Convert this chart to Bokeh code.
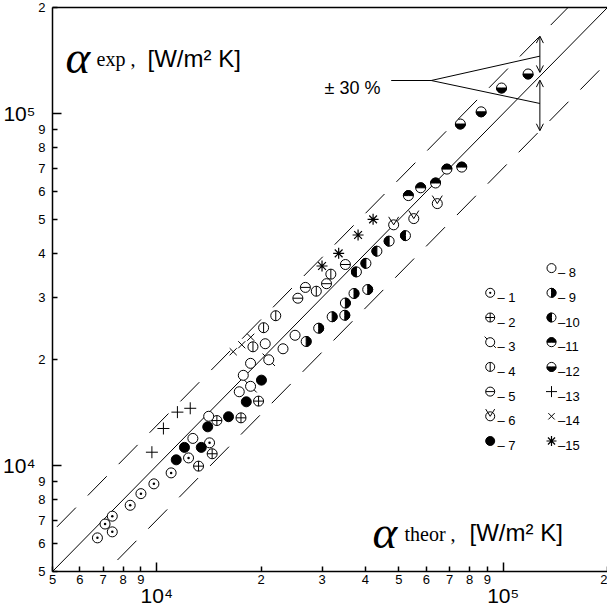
import numpy as np
from bokeh.plotting import figure
from bokeh.models import FixedTicker, Label, Arrow, OpenHead, Range1d, LogAxis
from bokeh.embed import file_html
from bokeh.resources import INLINE

# ---------------- data ----------------
XMIN, XMAX = 5000, 200000
YMIN, YMAX = 5000, 200000

TICKS = [5000, 6000, 7000, 8000, 9000, 20000, 30000, 40000, 50000,
         60000, 70000, 80000, 90000, 200000]
TICK_LABELS = ["5", "6", "7", "8", "9", "2", "3", "4", "5", "6", "7", "8", "9", "2"]
DECADES = [10000, 100000]
DECADE_LABELS = ["10⁴", "10⁵"]

S1_X = [6740, 7090, 7440, 7440, 8380, 9000, 9810, 11000, 12350, 14200]
S1_Y = [6230, 6820, 7180, 6480, 7710, 8320, 8870, 9530, 10510, 11600]
S2_X = [13200, 14450, 14910, 17500, 19670]
S2_Y = [9960, 10800, 13420, 13660, 15240]
S3_X = [18650, 21050]
S3_Y = [16790, 19970]
S4_X = [18950, 20340, 22050, 28870, 31800]
S4_Y = [21740, 24630, 26640, 31270, 34960]
S5_X = [25540, 26850, 30900, 35030]
S5_Y = [29870, 32060, 32850, 37240]
S6_X = [48280, 55190, 64520]
S6_Y = [48270, 50280, 55460]
S7_X = [11380, 12020, 13440, 14030, 16110, 18130, 20050]
S7_Y = [10380, 11260, 11260, 12880, 13760, 15170, 17480]
S8_X = [12710, 14120, 17300, 17770, 18650, 20560, 23140, 25070]
S8_Y = [11940, 13800, 16200, 18040, 19510, 22180, 21460, 23440]
S9_X = [26990, 29330, 32080, 34890, 35030, 37090, 40630]
S9_Y = [22510, 24550, 26460, 26720, 28940, 30810, 31620]
S10_X = [37690, 40150, 43190, 46850, 52220]
S10_Y = [35480, 37520, 40630, 43380, 44980]
S11_X = [53240, 57780, 63800, 68780, 75910]
S11_Y = [58440, 61500, 63460, 69500, 70420]
S12_X = [75210, 86360, 98900, 117980]
S12_Y = [93330, 101090, 118120, 129480]
S13_X = [9680, 10450, 11470, 12490]
S13_Y = [10910, 12740, 14180, 14540]
S14_X = [16620, 17590, 18670]
S14_Y = [21050, 22030, 23140]
S15_X = [29990, 33500, 38110, 42110]
S15_Y = [36880, 40060, 45170, 50030]

SERIES = [(1, S1_X, S1_Y), (2, S2_X, S2_Y), (3, S3_X, S3_Y), (4, S4_X, S4_Y),
          (5, S5_X, S5_Y), (6, S6_X, S6_Y), (7, S7_X, S7_Y), (8, S8_X, S8_Y),
          (9, S9_X, S9_Y), (10, S10_X, S10_Y), (11, S11_X, S11_Y),
          (12, S12_X, S12_Y), (13, S13_X, S13_Y), (14, S14_X, S14_Y),
          (15, S15_X, S15_Y)]

TOL = 0.30
ANNOT_X = 127600
ANNOT_TEXT = "± 30 %"
Y_TITLE_SUB = "exp ,"
X_TITLE_SUB = "theor ,"
UNIT_TEXT = "[W/m² K]"

# ---------------- layout helpers ----------------
FRAME_L, FRAME_T = 58, 15      # frame position in page pixels
FRAME_W, FRAME_H = 555, 564
RX = XMAX / XMIN
RY = YMAX / YMIN


def img(ix, iy):
    """page pixel -> data coordinates"""
    fx = (ix - FRAME_L) / FRAME_W
    fy = (iy - FRAME_T) / FRAME_H
    return XMIN * RX ** fx, YMIN * RY ** (1 - fy)


def shift(x, y, dx, dy):
    """shift data coords by screen pixels (dy positive = down)"""
    return np.asarray(x, float) * RX ** (dx / FRAME_W), np.asarray(y, float) * RY ** (-dy / FRAME_H)


p = figure(x_axis_type="log", y_axis_type="log",
           x_range=Range1d(XMIN, XMAX), y_range=Range1d(YMIN, YMAX),
           frame_width=FRAME_W, frame_height=FRAME_H,
           min_border_left=50, min_border_right=0, min_border_top=7, min_border_bottom=32,
           output_backend="svg", toolbar_location=None,
           background_fill_color="white", border_fill_color="white")
p.grid.visible = False
p.outline_line_color = None

for ax in (p.xaxis[0], p.yaxis[0]):
    ax.ticker = FixedTicker(ticks=TICKS, minor_ticks=DECADES)
    ax.major_label_overrides = {t: l for t, l in zip(TICKS, TICK_LABELS)}
    ax.major_tick_in = 5
    ax.major_tick_out = 0
    ax.minor_tick_in = 9
    ax.minor_tick_out = 0
    ax.major_tick_line_width = 1.5
    ax.minor_tick_line_width = 1.5
    ax.major_tick_line_color = "black"
    ax.minor_tick_line_color = "black"
    ax.axis_line_width = 1.5
    ax.axis_line_color = "black"
    ax.major_label_text_font = "Liberation Sans"
    ax.major_label_text_font_size = "13px"
    ax.major_label_text_color = "black"
p.xaxis[0].major_label_standoff = 3
p.yaxis[0].major_label_standoff = 7

# decade labels (10^4, 10^5) as a second axis on each side
for side, standoff in (("below", -3), ("left", 0)):
    dax = LogAxis(ticker=FixedTicker(ticks=DECADES, minor_ticks=[]),
                  major_label_overrides={d: l for d, l in zip(DECADES, DECADE_LABELS)},
                  axis_line_color=None, major_tick_line_color=None,
                  minor_tick_line_color=None, major_tick_in=0, major_tick_out=0,
                  major_label_standoff=standoff,
                  major_label_text_font="Liberation Sans",
                  major_label_text_font_size="21px", major_label_text_color="black")
    p.add_layout(dax, side)

# top frame line (no right border visible in the reference)
top_ax = LogAxis(ticker=FixedTicker(ticks=[], minor_ticks=[]), axis_line_width=1.5,
                 axis_line_color="black", major_tick_line_color=None,
                 minor_tick_line_color=None, major_label_text_font_size="0px",
                 major_tick_in=0, major_tick_out=0)
p.add_layout(top_ax, "above")

# reference lines
p.line([XMIN, XMAX], [YMIN, YMAX], line_color="black", line_width=1)
up_x = np.array([5150, YMAX / (1 + TOL)])
p.line(up_x, up_x * (1 + TOL), line_color="black", line_width=1, line_dash="27 17")
lo_x = np.array([7700, XMAX])
p.line(lo_x, lo_x * (1 - TOL), line_color="black", line_width=1, line_dash="27 17")


# ---------------- markers ----------------
HALF = {9: (-np.pi / 2, np.pi / 2), 10: (np.pi / 2, 3 * np.pi / 2),
        11: (0, np.pi), 12: (np.pi, 2 * np.pi)}


def draw(kind, x, y, s):
    x = np.asarray(x, float)
    y = np.asarray(y, float)
    lc = "black"
    if kind == 1:
        p.scatter(x, y, marker="circle_dot", size=s, fill_color="white", line_color=lc, line_width=1)
    elif kind == 2:
        p.scatter(x, y, marker="circle_cross", size=s, fill_color="white", line_color=lc, line_width=1)
    elif kind == 3:
        p.scatter(x, y, marker="dash", size=s * 1.75, angle=-np.pi / 4, line_color=lc, line_width=1)
        p.scatter(x, y, marker="circle", size=s, fill_color="white", line_color=lc, line_width=1)
    elif kind == 4:
        p.scatter(x, y, marker="circle", size=s, fill_color="white", line_color=lc, line_width=1)
        p.scatter(x, y, marker="dash", size=s, angle=np.pi / 2, line_color=lc, line_width=1)
    elif kind == 5:
        p.scatter(x, y, marker="circle", size=s, fill_color="white", line_color=lc, line_width=1)
        p.scatter(x, y, marker="dash", size=s, angle=0, line_color=lc, line_width=1)
    elif kind == 6:
        p.scatter(x, y, marker="circle", size=s, fill_color="white", line_color=lc, line_width=1)
        lx_, ly_ = shift(x, y, -0.5 * s, -0.8 * s)
        rx_, ry_ = shift(x, y, 0.5 * s, -0.8 * s)
        xs = [[a, b, c] for a, b, c in zip(lx_, x, rx_)]
        ys = [[a, b, c] for a, b, c in zip(ly_, y, ry_)]
        p.multi_line(xs, ys, line_color=lc, line_width=1)
    elif kind == 7:
        p.scatter(x, y, marker="circle", size=s, fill_color="black", line_color=lc, line_width=1)
    elif kind == 8:
        p.scatter(x, y, marker="circle", size=s, fill_color="white", line_color=lc, line_width=1)
    elif kind in HALF:
        a0, a1 = HALF[kind]
        p.scatter(x, y, marker="circle", size=s, fill_color="white", line_color=lc, line_width=1)
        p.wedge(x, y, radius=s / 2, radius_units="screen", start_angle=a0, end_angle=a1,
                fill_color="black", line_color=lc, line_width=1)
    elif kind == 13:
        p.scatter(x, y, marker="cross", size=s + 2, line_color=lc, line_width=1)
    elif kind == 14:
        p.scatter(x, y, marker="x", size=s, line_color=lc, line_width=1)
    elif kind == 15:
        p.scatter(x, y, marker="asterisk", size=s + 1, line_color=lc, line_width=1.2)


for kind, xs, ys in SERIES:
    draw(kind, xs, ys, 10)

# ---------------- legend ----------------
LEG_MARK_X = [495.7, 557.0]
LEG_TEXT_X = [503.0, 563.5]
LEG_ROW0, LEG_DY = 275.6, 24.7
for kind, _, _ in SERIES:
    if kind <= 7:
        col, row = 0, kind
    else:
        col, row = 1, kind - 8
    iy = LEG_ROW0 + row * LEG_DY
    mx, my = img(LEG_MARK_X[col], iy)
    draw(kind, [mx], [my], 9)
    tx, ty = img(LEG_TEXT_X[col], iy + 4.5)
    txt = ("– %d" % kind) if kind < 10 else ("–%d" % kind)
    p.add_layout(Label(x=tx, y=ty, text=txt, text_align="left", text_baseline="alphabetic",
                       text_font="Liberation Sans", text_font_size="13px", text_color="black"))

# ---------------- ±30 % annotation ----------------
tx, ty = img(330, 95)
p.add_layout(Label(x=tx, y=ty, text=ANNOT_TEXT, text_align="left", text_baseline="alphabetic",
                   text_font="Liberation Sans", text_font_size="18px", text_color="black"))
hx, hy = img(396.7, 88)
vx, vy = img(436.7, 88)
p.line([hx, vx], [hy, vy], line_color="black", line_width=1)
p.line([vx, ANNOT_X], [vy, ANNOT_X * np.sqrt(1 + TOL)], line_color="black", line_width=1)
p.line([vx, ANNOT_X], [vy, ANNOT_X * np.sqrt(1 - TOL)], line_color="black", line_width=1)
p.add_layout(Arrow(start=OpenHead(size=7, line_width=1), end=OpenHead(size=7, line_width=1),
                   x_start=ANNOT_X, y_start=ANNOT_X * (1 + TOL),
                   x_end=ANNOT_X, y_end=ANNOT_X * 1.025, line_width=1))
p.add_layout(Arrow(start=OpenHead(size=7, line_width=1), end=OpenHead(size=7, line_width=1),
                   x_start=ANNOT_X, y_start=ANNOT_X * 0.975,
                   x_end=ANNOT_X, y_end=ANNOT_X * (1 - TOL), line_width=1))


# ---------------- axis titles ----------------
def title(ax_x, ay, sx, sy, ux, uy, sub):
    a = img(ax_x, ay)
    p.add_layout(Label(x=a[0], y=a[1], text="α", text_font="Liberation Serif",
                       text_font_style="italic", text_font_size="47px", text_color="black",
                       text_baseline="alphabetic"))
    b = img(sx, sy)
    p.add_layout(Label(x=b[0], y=b[1], text=sub, text_font="Liberation Serif",
                       text_font_size="20px", text_color="black", text_baseline="alphabetic"))
    c = img(ux, uy)
    p.add_layout(Label(x=c[0], y=c[1], text=UNIT_TEXT, text_font="Liberation Sans",
                       text_font_size="24px", text_color="black", text_baseline="alphabetic"))


title(71, 64, 102, 66, 153, 66, Y_TITLE_SUB)
title(378, 539, 410, 541, 475, 540, X_TITLE_SUB)

open("out.html", "w").write(file_html(p, INLINE))
